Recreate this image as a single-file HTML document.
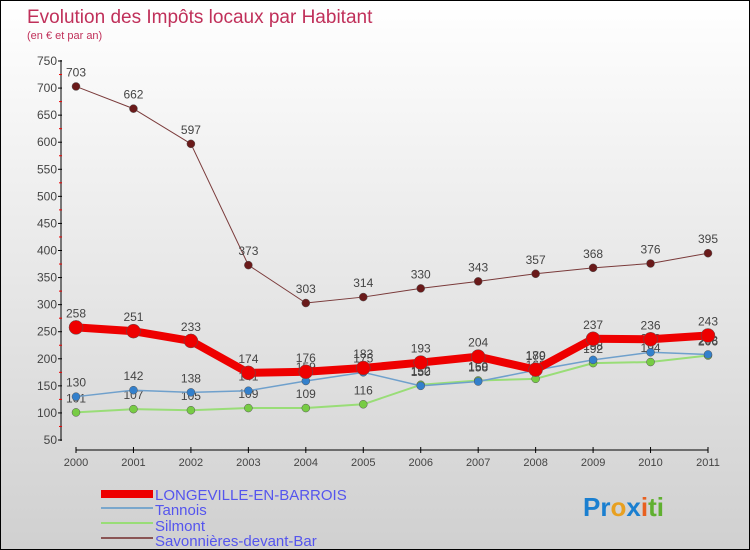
<!DOCTYPE html>
<html><head><meta charset="utf-8"><style>
body{margin:0;}
#c{width:748px;height:548px;border:1px solid #000;background:linear-gradient(#ffffff,#d0d0d0);position:relative;font-family:"Liberation Sans",sans-serif;}
</style></head><body>
<div id="c">
<svg id="s" width="748" height="548" style="position:absolute;left:0;top:0">
<text x="26" y="22" font-size="19" fill="#c0305a">Evolution des Impôts locaux par Habitant</text>
<text x="26" y="38" font-size="11" fill="#c0305a">(en € et par an)</text>
<g id="axes"></g><g id="series"></g>
<g>
<rect x="100" y="489" width="52" height="8" fill="#e00"/>
<text x="154" y="499" font-size="15" fill="#5555ee">LONGEVILLE-EN-BARROIS</text>
<rect x="100" y="506" width="52" height="2" fill="#7aa7cc"/>
<text x="154" y="514" font-size="15" fill="#5555ee">Tannois</text>
<rect x="100" y="521" width="52" height="2" fill="#99dd77"/>
<text x="154" y="530" font-size="15" fill="#5555ee">Silmont</text>
<rect x="100" y="536" width="52" height="2" fill="#8a5555"/>
<text x="154" y="545" font-size="15" fill="#5555ee">Savonnières-devant-Bar</text>
</g>
<text x="582" y="515" font-size="26" font-weight="bold"><tspan fill="#1a7fd0">Pr</tspan><tspan fill="#e8a020">o</tspan><tspan fill="#1a7fd0">x</tspan><tspan fill="#e86020">i</tspan><tspan fill="#60b030">ti</tspan></text>
</svg></div>
<script>
const years=[2000,2001,2002,2003,2004,2005,2006,2007,2008,2009,2010,2011];
const yTicks=[50,100,150,200,250,300,350,400,450,500,550,600,650,700,750];
const longeville=[258,251,233,174,176,183,193,204,180,237,236,243];
const tannois=[130,142,138,141,159,175,150,158,179,198,212,208];
const silmont=[101,107,105,109,109,116,152,160,163,192,194,206];
const savonnieres=[703,662,597,373,303,314,330,343,357,368,376,395];
const NS="http://www.w3.org/2000/svg";
const X=i=>75+i*(707-75)/11;
const Y=v=>439-(v-50)*(439-60)/700;
function mk(t,a,p){const e=document.createElementNS(NS,t);for(const k in a)e.setAttribute(k,a[k]);p.appendChild(e);return e;}
const ax=document.getElementById('axes');
let l=mk('line',{x1:60,y1:59,x2:60,y2:440,stroke:'#000'},ax);


l=mk('line',{x1:75,y1:449,x2:707,y2:449,stroke:'#000'},ax);


yTicks.forEach((v,i)=>{
 mk('line',{x1:57,x2:61,y1:Y(v),y2:Y(v),stroke:'#000'},ax);
 if(i<yTicks.length-1)mk('line',{x1:58,x2:61,y1:Y(v+25),y2:Y(v+25),stroke:'#e00'},ax);
 const t=mk('text',{x:56,y:Y(v)+4,'font-size':12,fill:'#444','text-anchor':'end'},ax);
 t.textContent=v;
 
 
});
years.forEach((y,i)=>{
 mk('line',{x1:X(i),x2:X(i),y1:446,y2:452,stroke:'#000'},ax);
 const t=mk('text',{x:X(i),y:465,'font-size':11,fill:'#444','text-anchor':'middle'},ax);
 t.textContent=y;
 
 
});
const sg=document.getElementById('series');
function draw(name,data,color,w,r,dot){
 const g=mk('g',{},sg);
 
 
 const p=mk('polyline',{points:data.map((v,i)=>X(i)+','+Y(v)).join(' '),fill:'none',stroke:color,'stroke-width':w,'stroke-linejoin':'round'},g);
 
 
 data.forEach((v,i)=>{
  const c=mk('circle',{cx:X(i),cy:Y(v),r:r,fill:dot,stroke:'#555','stroke-width':0.5},g);
  
  
  const t=mk('text',{x:X(i),y:Y(v)-10,'font-size':12,fill:'#444','text-anchor':'middle'},g);
  t.textContent=v;
  
  
 });
}
draw('savonnieres',savonnieres,'#7a3a3a',1,4,'#6a1a1a');
draw('silmont',silmont,'#99dd77',2,4,'#77cc44');
draw('tannois',tannois,'#6fa0cc',1.5,4,'#3380cc');
draw('longeville',longeville,'#ee0000',8,7,'#ee0000');
</script>
</body></html>
